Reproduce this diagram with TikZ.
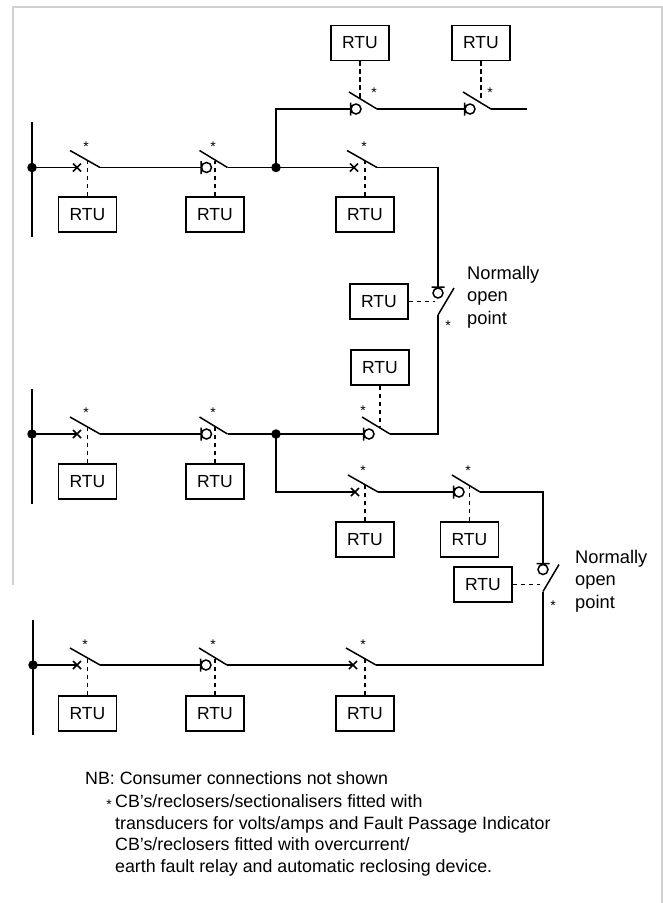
\documentclass[tikz,border=0pt]{standalone}
\usepackage{fontspec}
\setmainfont{Liberation Sans}
\usetikzlibrary{calc}
\newcommand\txtfont{\fontsize{17.8}{22.5}\selectfont}
\newcommand\labfont{\fontsize{18.3}{22.5}\selectfont}
\newcommand\rtufont{\fontsize{17.5}{20}\selectfont}
\newcommand\astfont{\fontsize{14}{14}\selectfont}
\begin{document}
\begin{tikzpicture}[x=1pt,y=-1pt,
  wire/.style={line width=1.5pt},
  ctrl/.style={line width=1.2pt, dash pattern=on 4.5pt off 3.5pt},
  rtu/.style={draw, line width=1.3pt, minimum width=58pt, minimum height=35pt, inner sep=0pt, font=\rtufont},
  jdot/.style={circle, fill, inner sep=0pt, minimum size=9.5pt},
  ast/.style={inner sep=0pt, anchor=north, font=\astfont},
  frameline/.style={line width=2pt, draw=black!18},
  note/.style={anchor=base west, inner sep=0pt, font=\txtfont},
  cbsw/.pic={\draw[wire] (-4,-4)--(4,4) (-4,4)--(4,-4) (-7,-17)--(23,0);},
  rcsw/.pic={\draw[wire] (-5.5,-6.5)--(-5.5,6.5) (-7,-17)--(21,0) (0,0) circle[radius=5];},
  nosw/.pic={\draw[wire] (-6.5,-6)--(6.5,-6) (0,0) circle[radius=5] (0,22)--(16,-5);},
]
\useasboundingbox (0,0) rectangle (663,903);
\draw[frameline] (13,585) -- (13,7) -- (662,7) -- (662,903);

% ---------- row 1 ----------
\coordinate (b1t) at (32,122); \coordinate (b1b) at (32,237);
\draw[wire] (b1t) -- (b1b);
\node[jdot] (d1) at (32,167.5) {};
\coordinate (s11) at (77,167.5);  \pic at (s11) {cbsw};
\coordinate (s12) at (206.5,167.5); \pic at (s12) {rcsw};
\node[jdot] (j1) at (276,167.5) {};
\coordinate (s13) at (354,167.5); \pic at (s13) {cbsw};
\coordinate (t1) at (356,109); \pic at (t1) {rcsw};
\coordinate (t2) at (470,109); \pic at (t2) {rcsw};
\coordinate (t2e) at (527,109);
\coordinate (n1) at (438,293); \pic at (n1) {nosw};

\draw[wire] (d1.center) -- (s11);
\draw[wire] ($(s11)+(23,0)$) -- ($(s12)+(-5.5,0)$);
\draw[wire] ($(s12)+(21,0)$) -- (j1.center) -- (s13);
\draw[wire] ($(s13)+(23,0)$) -| ($(n1)+(0,-6)$);
\draw[wire] (j1.center) |- ($(t1)+(-5.5,0)$);
\draw[wire] ($(t1)+(21,0)$) -- ($(t2)+(-5.5,0)$);
\draw[wire] ($(t2)+(21,0)$) -- (t2e);

\node[rtu] (r11) at (87.5,214.5) {RTU};
\node[rtu] (r12) at (215,214.5) {RTU};
\node[rtu] (r13) at (365,214.5) {RTU};
\node[rtu] (rt1) at (360,43) {RTU};
\node[rtu] (rt2) at (481,43) {RTU};
\node[rtu] (rn1) at (379,301.5) {RTU};
\draw[ctrl] (r11.north) -- ($(r11.north |- s11)+(0,-7)$);
\draw[ctrl] (r12.north) -- ($(r12.north |- s12)+(0,-7)$);
\draw[ctrl] (r13.north) -- ($(r13.north |- s13)+(0,-7)$);
\draw[ctrl] (rt1.south) -- ($(rt1.south |- t1)+(0,-9)$);
\draw[ctrl] (rt2.south) -- ($(rt2.south |- t2)+(0,-9)$);
\draw[ctrl] (rn1.east) -- ($(rn1.east -| n1)+(-3,0)$);

\node[ast] at (86,142) {*};
\node[ast] at (213,142) {*};
\node[ast] at (364,142) {*};
\node[ast] at (374,88) {*};
\node[ast] at (490,88) {*};
\node[ast] at (448,321) {*};

\node[anchor=north west, align=left, inner sep=0pt, font=\labfont] (lab1) at (467,266) {Normally\\open\\point};

% ---------- row 2 ----------
\coordinate (b2t) at (32,389); \coordinate (b2b) at (32,504);
\draw[wire] (b2t) -- (b2b);
\node[jdot] (d2) at (32,434) {};
\coordinate (s21) at (77,434);  \pic at (s21) {cbsw};
\coordinate (s22) at (206.5,434); \pic at (s22) {rcsw};
\node[jdot] (j2) at (276,434) {};
\coordinate (s23) at (369,434); \pic at (s23) {rcsw};
\coordinate (sb1) at (355,492); \pic at (sb1) {cbsw};
\coordinate (sb2) at (459,492); \pic at (sb2) {rcsw};
\coordinate (n2) at (543,569.5); \pic at (n2) {nosw};

\draw[wire] (d2.center) -- (s21);
\draw[wire] ($(s21)+(23,0)$) -- ($(s22)+(-5.5,0)$);
\draw[wire] ($(s22)+(21,0)$) -- (j2.center) -- ($(s23)+(-5.5,0)$);
\draw[wire] ($(s23)+(21,0)$) -| ($(n1)+(0,22)$);
\draw[wire] (j2.center) |- (sb1);
\draw[wire] ($(sb1)+(23,0)$) -- ($(sb2)+(-5.5,0)$);
\draw[wire] ($(sb2)+(21,0)$) -| ($(n2)+(0,-6)$);

\node[rtu] (r21) at (87.5,481.5) {RTU};
\node[rtu] (r22) at (215,481.5) {RTU};
\node[rtu] (r23) at (380,367.5) {RTU};
\node[rtu] (rb1) at (365,539.5) {RTU};
\node[rtu] (rb2) at (469.5,539.5) {RTU};
\node[rtu] (rn2) at (483,584.5) {RTU};
\draw[ctrl] (r21.north) -- ($(r21.north |- s21)+(0,-7)$);
\draw[ctrl] (r22.north) -- ($(r22.north |- s22)+(0,-7)$);
\draw[ctrl] (r23.south) -- ($(r23.south |- s23)+(0,-7)$);
\draw[ctrl] (rb1.north) -- ($(rb1.north |- sb1)+(0,-7)$);
\draw[ctrl] (rb2.north) -- ($(rb2.north |- sb2)+(0,-7)$);
\draw[ctrl] (rn2.east) -- ($(rn2.east -| n2)+(-3,0)$);

\node[ast] at (86,408) {*};
\node[ast] at (213,408) {*};
\node[ast] at (363,406) {*};
\node[ast] at (363,466) {*};
\node[ast] at (468,466) {*};
\node[ast] at (553,601) {*};

\node[anchor=north west, align=left, inner sep=0pt, font=\labfont] (lab2) at (575,550) {Normally\\open\\point};

% ---------- row 3 ----------
\coordinate (b3t) at (33,620); \coordinate (b3b) at (33,735);
\draw[wire] (b3t) -- (b3b);
\node[jdot] (d3) at (33,665) {};
\coordinate (s31) at (77,665);  \pic at (s31) {cbsw};
\coordinate (s32) at (206,665); \pic at (s32) {rcsw};
\coordinate (s33) at (353,665); \pic at (s33) {cbsw};

\draw[wire] (d3.center) -- (s31);
\draw[wire] ($(s31)+(23,0)$) -- ($(s32)+(-5.5,0)$);
\draw[wire] ($(s32)+(21,0)$) -- (s33);
\draw[wire] ($(s33)+(23,0)$) -| ($(n2)+(0,22)$);

\node[rtu] (r31) at (87.5,713.5) {RTU};
\node[rtu] (r32) at (215,713.5) {RTU};
\node[rtu] (r33) at (365,713.5) {RTU};
\draw[ctrl] (r31.north) -- ($(r31.north |- s31)+(0,-7)$);
\draw[ctrl] (r32.north) -- ($(r32.north |- s32)+(0,-7)$);
\draw[ctrl] (r33.north) -- ($(r33.north |- s33)+(0,-7)$);

\node[ast] at (85,640) {*};
\node[ast] at (213,640) {*};
\node[ast] at (363,640) {*};

% ---------- notes ----------
\node[note] (nb1) at (85,784) {NB: Consumer connections not shown};
\node[ast] (nbs) at (109,800) {*};
\node[note] (nb2) at (115,807) {CB's/reclosers/sectionalisers fitted with};
\node[note] (nb3) at (115,829) {transducers for volts/amps and Fault Passage Indicator};
\node[note] (nb4) at (115,850.5) {CB's/reclosers fitted with overcurrent/};
\node[note] (nb5) at (115,872) {earth fault relay and automatic reclosing device.};
\end{tikzpicture}
\end{document}
